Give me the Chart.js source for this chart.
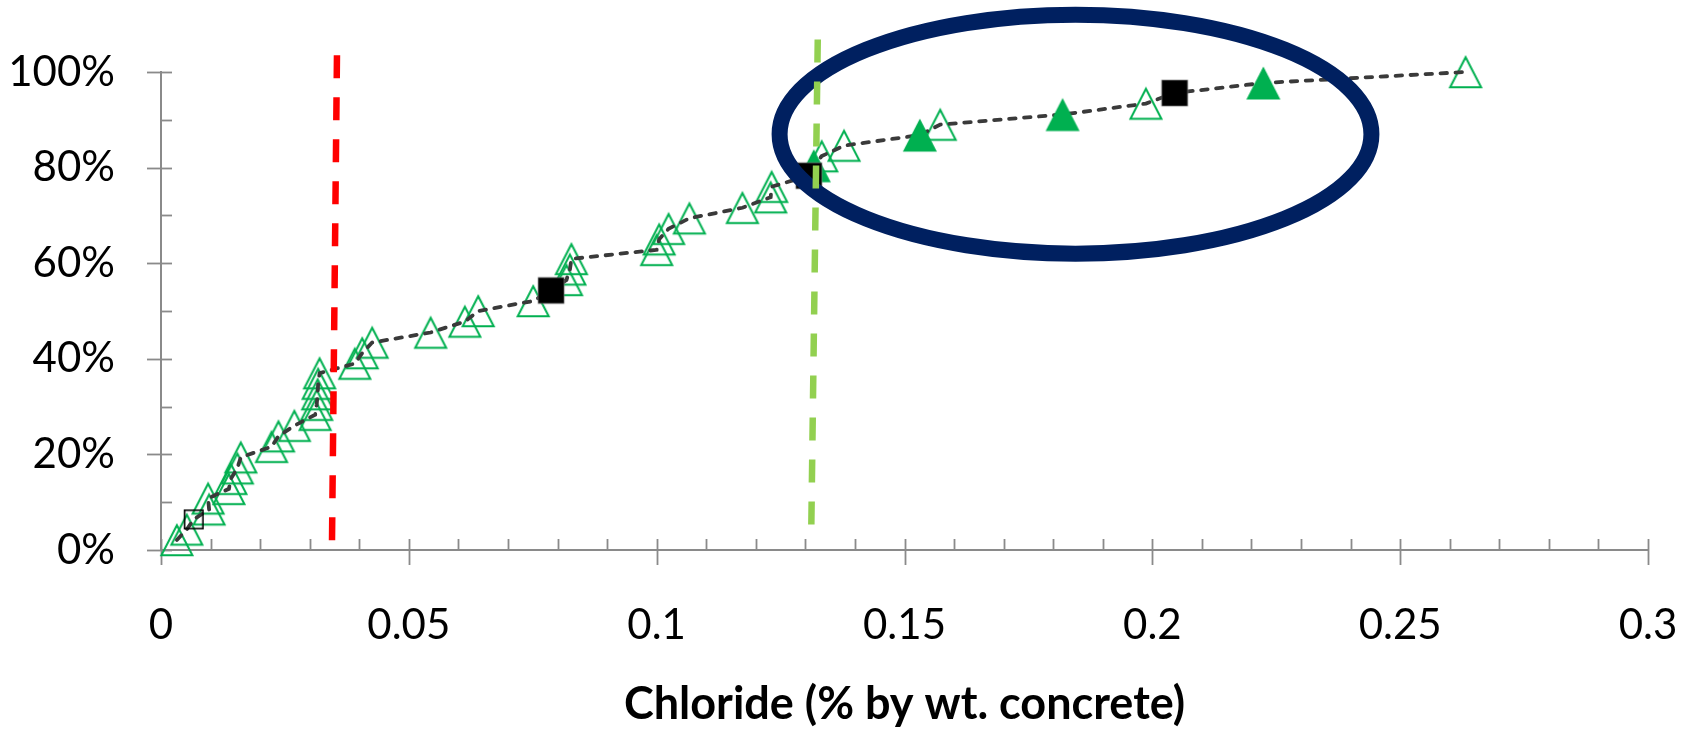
<!DOCTYPE html>
<html>
<head>
<meta charset="utf-8">
<script src="https://cdn.jsdelivr.net/npm/chart.js@4.4.1/dist/chart.umd.min.js"></script>
<style>
html,body{margin:0;padding:0;background:#ffffff;}
#wrap{width:1694px;height:731px;position:relative;}
</style>
</head>
<body>
<div id="wrap"><canvas id="c" width="1694" height="731"></canvas></div>
<script>
// ---------- data ----------
// open (hollow) green triangles
const openTriX = [0.0032, 0.0052, 0.0097, 0.0095, 0.0137, 0.0141, 0.0154, 0.0161, 0.0223, 0.0237,
                  0.0269, 0.0311, 0.0314, 0.0316, 0.0317, 0.0320, 0.0391, 0.0406, 0.0426, 0.0544,
                  0.0613, 0.0640, 0.0751, 0.0818, 0.0825, 0.0828, 0.1000, 0.1005, 0.1024, 0.1066,
                  0.1173, 0.1230, 0.1232, 0.1333, 0.1378, 0.1572, 0.1987, 0.2632];
const openTriY = [2.1, 4.3, 8.5, 10.8, 12.8, 14.9, 17.1, 19.4, 21.6, 23.8,
                  26.0, 28.3, 30.4, 32.6, 34.8, 37.0, 39.0, 41.2, 43.4, 45.5,
                  47.8, 50.0, 52.1, 56.5, 58.7, 60.9, 62.8, 65.0, 67.2, 69.4,
                  71.6, 73.8, 76.0, 82.4, 84.6, 89.0, 93.4, 100.0];
// filled green triangles
const solidTriX = [0.1317, 0.1531, 0.1819, 0.2224];
const solidTriY = [80.4, 86.8, 91.1, 97.7];
// filled black squares
const solidSqX = [0.0787, 0.1307, 0.2045];
const solidSqY = [54.3, 78.3, 95.6];
// hollow black square
const openSqX = [0.0066];
const openSqY = [6.4];
// vertical dashed reference lines (top point first)
const redLineX = [0.0355, 0.0345];
const redLineY = [103.5, 1.9];
const greenLineX = [0.1325, 0.1312];
const greenLineY = [106.8, 5.0];
// highlight ellipse (data units): centre and radii
const ellipseCenter = [0.1845, 87.0];
const ellipseRadii = [0.0597, 25.0];
// axes
const xTickLabels = ['0', '0.05', '0.1', '0.15', '0.2', '0.25', '0.3'];
const yTickLabels = ['0%', '20%', '40%', '60%', '80%', '100%'];
const xTitle = 'Chloride (% by wt. concrete)';

// ---------- helpers ----------
const toPts = (xs, ys) => xs.map((x, i) => ({x: x, y: ys[i]}));
const GREEN = '#00B050';
const AXIS = '#8A8A8A';

function marker(kind) {
  const c = document.createElement('canvas');
  c.width = 40; c.height = 40;
  const g = c.getContext('2d');
  const cx = 20, cy = 20;
  if (kind === 'openTri') {
    g.strokeStyle = GREEN; g.lineWidth = 2; g.lineJoin = 'miter';
    g.beginPath(); g.moveTo(cx, cy - 14.8); g.lineTo(cx + 15.5, cy + 15.3); g.lineTo(cx - 15.5, cy + 15.3); g.closePath(); g.stroke();
  } else if (kind === 'solidTri') {
    g.fillStyle = GREEN;
    g.beginPath(); g.moveTo(cx, cy - 16.5); g.lineTo(cx + 17, cy + 16.5); g.lineTo(cx - 17, cy + 16.5); g.closePath(); g.fill();
  } else if (kind === 'solidSq') {
    g.fillStyle = '#000000'; g.fillRect(cx - 13, cy - 13, 26, 26);
    g.strokeStyle = '#7f7f7f'; g.lineWidth = 0.7; g.strokeRect(cx - 13, cy - 13, 26, 26);
  } else if (kind === 'openSq') {
    g.strokeStyle = '#000000'; g.lineWidth = 1.6; g.strokeRect(cx - 9.2, cy - 9.2, 18.4, 18.4);
  }
  return c;
}

// cumulative line: all points ordered by cumulative percentage
const allPts = [].concat(toPts(openTriX, openTriY), toPts(solidTriX, solidTriY),
                         toPts(solidSqX, solidSqY), toPts(openSqX, openSqY))
                 .sort((a, b) => a.y - b.y);

const axisTicks = {
  id: 'axisTicks',
  beforeDatasetsDraw(chart) {
    const {ctx, scales: {x, y}} = chart;
    ctx.save();
    ctx.strokeStyle = AXIS; ctx.lineWidth = 1.8;
    const yb = y.getPixelForValue(0);
    for (let i = 0; i <= 30; i++) {
      const px = Math.round(x.getPixelForValue(i / 100)) + 0.5;
      const major = i % 5 === 0;
      ctx.beginPath(); ctx.moveTo(px, yb - 11); ctx.lineTo(px, major ? yb + 15 : yb); ctx.stroke();
    }
    const xl = x.getPixelForValue(0);
    for (let i = 0; i <= 10; i++) {
      const py = Math.round(y.getPixelForValue(i * 10)) + 0.5;
      const major = i % 2 === 0;
      ctx.beginPath(); ctx.moveTo(major ? xl - 14 : xl, py); ctx.lineTo(xl + 11, py); ctx.stroke();
    }
    ctx.restore();
    chart.$ellipseDone = false;
  },
  beforeDatasetDraw(chart, args) {
    const ds = chart.data.datasets[args.index];
    if (!ds.isRef || chart.$ellipseDone) return;
    chart.$ellipseDone = true;
    const {ctx, scales: {x, y}} = chart;
    const cx = x.getPixelForValue(ellipseCenter[0]);
    const cy = y.getPixelForValue(ellipseCenter[1]);
    const rx = Math.abs(x.getPixelForValue(ellipseCenter[0] + ellipseRadii[0]) - cx);
    const ry = Math.abs(y.getPixelForValue(ellipseCenter[1] + ellipseRadii[1]) - cy);
    ctx.save();
    ctx.strokeStyle = '#002060'; ctx.lineWidth = 16;
    ctx.beginPath(); ctx.ellipse(cx, cy, rx, ry, 0, 0, Math.PI * 2); ctx.stroke();
    ctx.restore();
  }
};

const hiddenGrid = (len) => ({ display: true, drawOnChartArea: false, drawTicks: true,
                               tickLength: len, color: 'rgba(0,0,0,0)' });

function build() {
  Chart.defaults.font.family = 'Lato';
  new Chart(document.getElementById('c'), {
    type: 'scatter',
    data: {
      datasets: [
        { label: 'red', isRef: true, data: toPts(redLineX, redLineY), showLine: true,
          borderColor: '#FF0000', borderWidth: 6.5, borderDash: [23, 19], pointRadius: 0,
          clip: false, order: 0 },
        { label: 'green', isRef: true, data: toPts(greenLineX, greenLineY), showLine: true,
          borderColor: '#92D050', borderWidth: 6.5, borderDash: [23, 19], pointRadius: 0,
          clip: false, order: 1 },
        { label: 'solidSq', data: toPts(solidSqX, solidSqY), pointStyle: marker('solidSq'),
          pointRadius: 13, showLine: false, clip: false, order: 2 },
        { label: 'openSq', data: toPts(openSqX, openSqY), pointStyle: marker('openSq'),
          pointRadius: 10, showLine: false, clip: false, order: 2 },
        { label: 'solidTri', data: toPts(solidTriX, solidTriY), pointStyle: marker('solidTri'),
          pointRadius: 16, showLine: false, clip: false, order: 3 },
        { label: 'cdf', data: allPts, showLine: true, borderColor: '#3A3A3A', borderWidth: 3.8,
          borderDash: [6.5, 8.5], borderCapStyle: 'round', tension: 0, pointRadius: 0,
          clip: false, order: 4 },
        { label: 'openTri', data: toPts(openTriX, openTriY), pointStyle: marker('openTri'),
          pointRadius: 16, showLine: false, clip: false, order: 5 }
      ]
    },
    options: {
      responsive: false,
      animation: false,
      devicePixelRatio: 1,
      layout: { padding: { left: 0, right: 46, top: 72, bottom: 0 } },
      plugins: { legend: { display: false }, tooltip: { enabled: false } },
      scales: {
        x: {
          type: 'linear', min: 0, max: 0.3,
          grid: hiddenGrid(48),
          border: { display: true, color: AXIS, width: 2 },
          ticks: { stepSize: 0.05, padding: 2, color: '#000000', font: { size: 42 },
                   maxRotation: 0, autoSkip: false,
                   callback: (v) => xTickLabels[Math.round(v / 0.05)] },
          title: { display: true, text: xTitle, color: '#000000',
                   font: { size: 45, weight: 'bold' }, padding: { top: 0, bottom: 0 } },
          afterFit: (s) => { s.height = 181; }
        },
        y: {
          type: 'linear', min: 0, max: 100,
          grid: hiddenGrid(44),
          border: { display: true, color: AXIS, width: 2 },
          ticks: { stepSize: 20, padding: 2, color: '#000000', font: { size: 42 },
                   callback: (v) => yTickLabels[Math.round(v / 20)] },
          afterFit: (s) => { s.width = 161; }
        }
      }
    },
    plugins: [axisTicks]
  });
}

if (document.fonts && document.fonts.load) {
  Promise.all([document.fonts.load('42px Lato'), document.fonts.load('bold 45px Lato')])
    .then(build, build);
} else { build(); }
</script>
</body>
</html>
